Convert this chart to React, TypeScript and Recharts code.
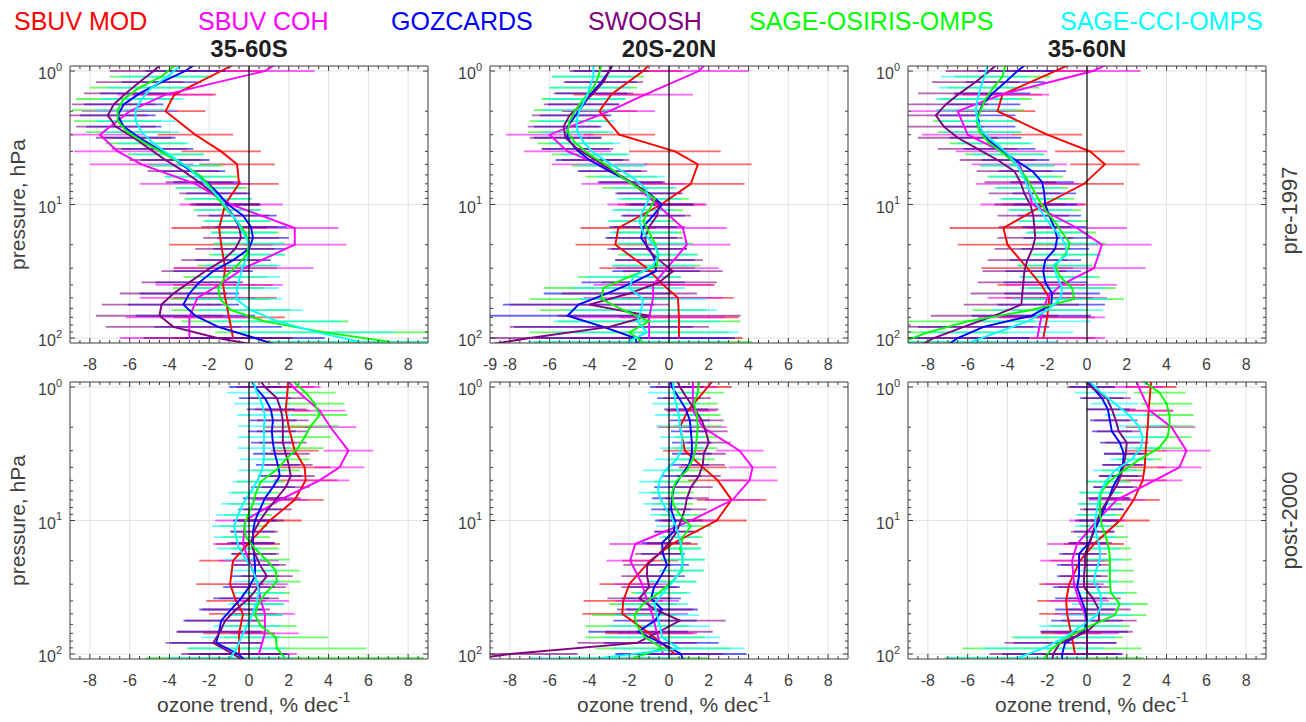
import React from 'react';
import { ScatterChart, Scatter, XAxis, YAxis, ErrorBar, ReferenceLine, ReferenceArea } from 'recharts';

// ---------- pressure levels (hPa) ----------
const P_SBUV = [0.7, 1, 1.5, 2, 3, 4, 5, 7, 10, 15, 20, 30, 40, 50, 70, 100];
const P_GRID = [0.83, 1, 1.21, 1.47, 1.78, 2.15, 2.61, 3.16, 3.83, 4.64, 5.62, 6.81, 8.25, 10, 12.1, 14.7, 17.8, 21.5, 26.1, 31.6, 38.3, 46.4, 56.2, 68.1, 82.5, 100, 121];
const P_SAGE = [0.9, 1.1, 1.33, 1.62, 1.96, 2.37, 2.87, 3.48, 4.21, 5.11, 6.19, 7.5, 9.08, 11, 13.3, 16.2, 19.6, 23.7, 28.7, 34.8, 42.2, 51.1, 61.9, 75, 90.8, 107];

// ---------- ticks ----------
const X_TICKS = [-9, -8.5, -8, -7.5, -7, -6.5, -6, -5.5, -5, -4.5, -4, -3.5, -3, -2.5, -2, -1.5, -1, -0.5, 0, 0.5, 1, 1.5, 2, 2.5, 3, 3.5, 4, 4.5, 5, 5.5, 6, 6.5, 7, 7.5, 8, 8.5, 9];
const X_GRID = [-8, -6, -4, -2, 2, 4, 6, 8];
const Y_TICKS = [1, 2, 3, 4, 5, 6, 7, 8, 9, 10, 20, 30, 40, 50, 60, 70, 80, 90, 100];
const Y_MAJOR = [1, 10, 100];
const Y_EXP = ['0', '1', '2'];

// ---------- series names / colours ----------
const SERIES_NAMES = ['SBUV MOD', 'SBUV COH', 'GOZCARDS', 'SWOOSH', 'SAGE-OSIRIS-OMPS', 'SAGE-CCI-OMPS'];
const SERIES_COLORS = ['#ff0000', '#ff00ff', '#0000ff', '#800080', '#00ff00', '#00ffff'];
const LEGEND_X = [14, 198, 391, 588, 749, 1060];
const TITLES = ['35-60S', '20S-20N', '35-60N'];
const ROW_LABELS = ['pre-1997', 'post-2000'];

// ---------- pre-1997, 35-60S ----------
const TL_MOD = [0.6, -1.4, -3.75, -4.2, -2.7, -1.4, -0.6, -0.5, -1.2, -1.5, -1.4, -1.2, -1.3, -1.2, -1.0, -0.8];
const TL_MOD_E = [2.2, 2.0, 2.1, 2.0, 1.9, 2.0, 1.9, 2.0, 1.8, 2.4, 2.6, 2.6, 2.5, 2.6, 2.8, 3.0];
const TL_COH = [2.5, 0.8, -4.2, -6.0, -7.5, -6.6, -5.4, -2.7, -0.9, 2.3, 2.3, -0.25, -1.5, -2.6, -3.0, -3.0];
const TL_COH_E = [2.6, 2.5, 2.4, 2.4, 2.2, 2.2, 2.6, 2.8, 2.6, 2.2, 2.6, 3.5, 3.2, 2.9, 3.2, 3.5];
const TL_GOZ = [-2.4, -3.2, -4.4, -5.5, -6.3, -6.6, -6.3, -5.5, -4.6, -3.7, -2.9, -2.1, -1.55, -1.05, -0.3, 0.1, 0.2, 0.0, -0.8, -1.8, -2.5, -3.0, -3.3, -2.7, -1.55, 0.3, 2.0];
const TL_GOZ_E = [2.0, 2.0, 2.0, 2.0, 2.0, 1.9, 1.9, 1.8, 1.8, 1.7, 1.7, 1.7, 1.6, 1.6, 1.7, 1.8, 1.8, 1.8, 1.9, 2.0, 2.2, 2.5, 2.8, 3.0, 3.2, 3.5, 3.8];
const TL_SWO = [-4.2, -4.8, -5.5, -6.2, -6.8, -7.1, -6.7, -5.8, -5.0, -4.2, -3.3, -2.5, -1.8, -1.2, -0.8, -0.5, -0.4, -0.7, -1.3, -2.2, -3.0, -3.8, -4.4, -4.5, -3.8, -1.6, 1.5];
const TL_SWO_E = [2.2, 2.2, 2.2, 2.1, 2.1, 2.0, 2.0, 1.9, 1.9, 1.8, 1.8, 1.7, 1.7, 1.7, 1.8, 1.9, 1.9, 2.0, 2.1, 2.2, 2.4, 2.7, 3.0, 3.2, 3.4, 3.7, 4.0];
const TL_SGO = [-3.7, -4.4, -5.5, -6.3, -6.6, -6.6, -6.1, -5.2, -4.2, -3.2, -2.4, -1.9, -1.55, -1.1, -0.6, -0.2, 0.0, -0.1, -0.6, -1.2, -1.55, -1.45, -0.9, 0.8, 3.8, 7.1];
const TL_SGO_E = [2.6, 2.6, 2.5, 2.4, 2.3, 2.2, 2.1, 2.0, 1.9, 1.9, 1.8, 1.8, 1.7, 1.7, 1.7, 1.7, 1.8, 1.9, 2.0, 2.1, 2.3, 2.5, 3.0, 4.2, 5.5, 6.5];
const TL_SGC = [-3.4, -4.1, -4.9, -5.4, -5.7, -5.7, -5.4, -4.8, -4.05, -3.2, -2.55, -2.0, -1.45, -1.05, -0.6, -0.3, 0.0, 0.0, -0.3, -0.45, -0.6, -0.65, 0.1, 1.45, 3.45, 5.6];
const TL_SGC_E = [2.3, 2.3, 2.2, 2.1, 2.0, 2.0, 1.9, 1.8, 1.8, 1.7, 1.7, 1.6, 1.6, 1.6, 1.6, 1.6, 1.7, 1.8, 1.9, 2.0, 2.1, 2.3, 2.6, 3.2, 3.8, 4.5];

// ---------- pre-1997, 20S-20N ----------
const TM_MOD = [-0.3, -1.3, -2.9, -3.5, -2.5, 0.3, 1.45, 1.1, -0.4, -2.55, -2.7, -1.1, -0.3, 0.45, 0.5, 0.5];
const TM_MOD_E = [2.2, 2.0, 1.9, 1.9, 1.8, 2.3, 2.7, 2.7, 2.2, 1.9, 2.0, 2.4, 2.6, 2.8, 3.0, 3.2];
const TM_COH = [2.5, 1.5, -1.2, -3.0, -6.0, -5.1, -3.5, -1.8, -0.6, 0.7, 0.9, -0.1, -0.8, -0.8, -1.0, -1.0];
const TM_COH_E = [2.6, 2.5, 2.4, 2.3, 2.2, 2.2, 2.4, 2.6, 2.5, 2.2, 2.2, 2.6, 3.0, 3.5, 3.8, 4.0];
const TM_GOZ = [-2.7, -3.0, -3.4, -3.9, -4.3, -4.7, -5.1, -5.1, -4.7, -4.0, -3.0, -1.9, -1.0, -0.35, -0.8, -1.3, -1.4, -1.0, -0.7, -0.65, -1.8, -3.1, -4.55, -5.1, -3.3, -1.7, -1.5];
const TM_GOZ_E = [1.8, 1.8, 1.8, 1.8, 1.8, 1.8, 1.7, 1.7, 1.7, 1.7, 1.6, 1.6, 1.6, 1.6, 1.6, 1.7, 1.8, 1.9, 2.0, 2.2, 2.6, 3.2, 3.8, 4.2, 4.5, 5.0, 5.5];
const TM_SWO = [-2.8, -3.0, -3.3, -3.8, -4.4, -5.0, -5.3, -5.2, -4.6, -3.7, -2.8, -1.9, -1.0, -0.5, -0.6, -1.0, -1.2, -1.1, -0.5, 0.2, -0.5, -2.0, -4.0, -1.0, -3.0, -7.0, -10.5];
const TM_SWO_E = [2.0, 2.0, 2.0, 2.0, 1.9, 1.9, 1.8, 1.8, 1.8, 1.7, 1.7, 1.7, 1.7, 1.7, 1.7, 1.8, 1.9, 2.0, 2.2, 2.5, 2.9, 3.4, 4.0, 4.6, 5.0, 5.5, 6.0];
const TM_SGO = [-3.4, -3.55, -3.8, -4.3, -4.7, -5.0, -5.1, -4.7, -4.0, -3.1, -2.4, -1.55, -0.7, -1.0, -1.3, -1.0, -0.7, -0.55, -0.6, -2.0, -3.3, -3.4, -2.3, -1.0, -2.0, -1.3];
const TM_SGO_E = [2.3, 2.3, 2.2, 2.1, 2.1, 2.0, 2.0, 1.9, 1.9, 1.8, 1.8, 1.8, 1.7, 1.7, 1.7, 1.8, 1.9, 2.0, 2.2, 2.6, 3.0, 3.6, 4.2, 4.6, 5.0, 5.5];
const TM_SGC = [-3.8, -3.8, -4.0, -4.2, -4.5, -4.65, -4.6, -4.25, -3.7, -2.8, -1.9, -1.2, -1.0, -1.3, -1.5, -1.3, -0.8, -0.5, -0.8, -1.8, -2.0, -1.3, -1.4, -1.6, -1.1, -2.1];
const TM_SGC_E = [2.1, 2.1, 2.0, 2.0, 1.9, 1.9, 1.8, 1.8, 1.7, 1.7, 1.7, 1.6, 1.6, 1.6, 1.6, 1.7, 1.8, 1.9, 2.1, 2.4, 2.8, 3.2, 3.8, 4.2, 4.6, 5.0];

// ---------- pre-1997, 35-60N ----------
const TR_MOD = [0.7, -1.6, -4.25, -4.5, -2.0, 0.15, 0.9, -0.15, -2.15, -4.2, -4.0, -3.0, -2.3, -1.9, -2.0, -2.2];
const TR_MOD_E = [2.2, 2.0, 2.0, 1.9, 1.75, 1.75, 1.75, 2.0, 2.1, 2.7, 2.5, 2.3, 2.2, 2.2, 2.4, 2.6];
const TR_COH = [2.5, 0.3, -4.3, -6.5, -6.0, -4.3, -3.4, -3.0, -2.75, -0.5, 0.75, 0.35, -1.3, -2.0, -2.3, -2.5];
const TR_COH_E = [2.6, 2.4, 2.4, 2.4, 2.3, 2.3, 2.4, 2.6, 2.6, 2.5, 2.5, 2.6, 2.8, 3.0, 3.2, 3.4];
const TR_GOZ = [-2.8, -3.5, -4.1, -4.75, -5.25, -5.5, -5.4, -5.1, -4.4, -3.6, -2.75, -2.25, -2.15, -2.1, -1.9, -1.65, -1.5, -1.6, -2.1, -2.2, -2.1, -1.75, -1.8, -2.8, -5.2, -6.5, -7.3];
const TR_GOZ_E = [2.0, 2.0, 2.0, 1.9, 1.9, 1.9, 1.8, 1.8, 1.8, 1.7, 1.7, 1.6, 1.6, 1.6, 1.6, 1.6, 1.7, 1.7, 1.8, 1.9, 2.1, 2.4, 2.7, 3.0, 3.3, 3.6, 4.0];
const TR_SWO = [-4.3, -4.9, -5.6, -6.4, -7.1, -7.6, -7.2, -6.5, -5.5, -4.5, -3.65, -3.35, -3.15, -2.85, -2.7, -2.65, -2.6, -2.75, -3.0, -3.15, -3.2, -3.25, -3.3, -4.65, -6.2, -7.7, -8.7];
const TR_SWO_E = [2.2, 2.2, 2.2, 2.1, 2.1, 2.1, 2.0, 2.0, 2.0, 1.9, 1.9, 1.8, 1.8, 1.8, 1.8, 1.8, 1.9, 1.9, 2.0, 2.1, 2.3, 2.6, 2.9, 3.2, 3.5, 3.8, 4.2];
const TR_SGO = [-4.1, -4.25, -4.7, -5.1, -5.35, -5.55, -5.4, -4.9, -4.15, -3.5, -3.1, -2.75, -2.45, -2.1, -1.65, -1.25, -0.85, -1.1, -1.6, -1.35, -0.75, -0.65, -2.85, -6.0, -8.0, -9.3];
const TR_SGO_E = [2.4, 2.4, 2.3, 2.3, 2.2, 2.2, 2.1, 2.0, 2.0, 1.9, 1.9, 1.8, 1.8, 1.8, 1.7, 1.7, 1.8, 1.8, 1.9, 2.0, 2.2, 2.5, 2.9, 3.4, 4.0, 4.8];
const TR_SGC = [-5.0, -5.15, -5.35, -5.5, -5.6, -5.5, -5.25, -4.6, -3.95, -3.5, -3.2, -2.95, -2.7, -2.35, -2.0, -1.5, -1.1, -1.0, -1.7, -1.5, -1.25, -1.35, -2.0, -3.0, -4.5, -5.85];
const TR_SGC_E = [2.2, 2.2, 2.1, 2.1, 2.0, 2.0, 1.9, 1.9, 1.8, 1.8, 1.7, 1.7, 1.7, 1.6, 1.6, 1.6, 1.7, 1.7, 1.8, 1.9, 2.1, 2.4, 2.8, 3.2, 3.8, 4.4];

// ---------- post-2000, 35-60S ----------
const BL_MOD = [2.0, 1.95, 1.85, 2.0, 2.3, 2.8, 2.85, 2.3, 1.05, -0.05, -0.8, -0.95, -0.65, -0.3, -0.5, -0.5];
const BL_MOD_E = [1.3, 1.3, 1.2, 1.2, 1.2, 1.3, 1.6, 1.45, 1.6, 1.6, 1.7, 1.7, 1.5, 1.7, 1.8, 2.0];
const BL_COH = [1.5, 2.2, 3.55, 4.1, 5.0, 4.55, 3.55, 1.55, -0.2, -0.3, 0.0, 0.45, 0.6, 0.8, 0.8, 0.5];
const BL_COH_E = [1.4, 1.4, 1.3, 1.3, 1.25, 1.25, 1.5, 1.4, 1.5, 1.5, 1.5, 1.5, 1.4, 1.5, 1.7, 1.9];
const BL_GOZ = [0.0, 0.3, 0.8, 1.1, 1.2, 1.15, 1.2, 1.3, 1.45, 1.55, 1.2, 0.8, 0.55, 0.3, 0.2, 0.2, 0.25, 0.3, 0.3, 0.0, -0.4, -0.9, -1.4, -1.5, -1.65, -0.55, 0.1];
const BL_GOZ_E = [1.3, 1.3, 1.3, 1.2, 1.2, 1.2, 1.1, 1.1, 1.1, 1.1, 1.1, 1.1, 1.1, 1.1, 1.1, 1.1, 1.1, 1.2, 1.2, 1.3, 1.4, 1.6, 1.9, 2.1, 2.3, 2.5, 2.7];
const BL_SWO = [0.4, 0.8, 1.4, 1.6, 1.7, 1.7, 1.7, 1.85, 2.0, 2.1, 1.85, 1.4, 0.95, 0.55, 0.25, 0.1, 0.3, 0.55, 0.9, 0.45, 0.0, -0.65, -1.2, -1.45, -1.8, -0.8, 0.1];
const BL_SWO_E = [1.4, 1.4, 1.4, 1.3, 1.3, 1.3, 1.2, 1.2, 1.2, 1.2, 1.2, 1.2, 1.2, 1.2, 1.2, 1.2, 1.2, 1.3, 1.3, 1.4, 1.5, 1.7, 2.0, 2.2, 2.4, 2.6, 2.8];
const BL_SGO = [2.2, 2.85, 3.3, 3.55, 3.1, 2.8, 2.45, 1.85, 1.35, 0.6, 0.35, 0.2, -0.05, -0.25, -0.15, 0.3, 0.85, 1.35, 1.4, 0.85, 0.45, 0.3, 0.6, 1.35, 1.4, 1.8];
const BL_SGO_E = [1.6, 1.5, 1.5, 1.4, 1.4, 1.3, 1.3, 1.2, 1.2, 1.2, 1.2, 1.2, 1.2, 1.2, 1.2, 1.2, 1.2, 1.2, 1.2, 1.2, 1.3, 1.4, 1.8, 2.6, 4.5, 7.0];
const BL_SGC = [0.2, 0.4, 0.65, 0.8, 0.75, 0.75, 0.75, 0.75, 0.65, 0.4, 0.05, -0.3, -0.55, -0.75, -0.65, -0.5, -0.15, 0.2, 0.4, 0.5, 0.35, 0.15, -0.1, -0.4, -0.6, -0.95];
const BL_SGC_E = [1.5, 1.5, 1.4, 1.4, 1.3, 1.3, 1.3, 1.2, 1.2, 1.2, 1.1, 1.1, 1.1, 1.1, 1.1, 1.1, 1.1, 1.2, 1.2, 1.3, 1.4, 1.5, 1.7, 2.0, 2.4, 3.2];

// ---------- post-2000, 20S-20N ----------
const BM_MOD = [2.8, 1.95, 0.95, 0.55, 0.8, 1.7, 2.45, 3.15, 2.4, 0.15, -0.95, -2.0, -2.3, -2.35, -1.0, 0.3];
const BM_MOD_E = [1.3, 1.2, 1.1, 1.1, 1.1, 1.2, 1.5, 1.75, 1.5, 1.3, 1.4, 1.5, 2.0, 2.0, 2.2, 2.4];
const BM_COH = [1.2, 1.2, 1.2, 1.7, 3.55, 4.2, 4.05, 3.2, 1.1, -1.7, -1.95, -1.35, -1.1, -0.85, -0.6, -0.3];
const BM_COH_E = [1.3, 1.2, 1.2, 1.2, 1.2, 1.2, 1.4, 1.4, 1.4, 1.3, 1.2, 1.4, 1.6, 1.8, 2.0, 2.2];
const BM_GOZ = [0.0, 0.15, 0.5, 0.85, 1.05, 1.1, 1.15, 1.15, 1.0, 0.6, 0.25, 0.15, 0.1, 0.3, 0.25, -0.35, -0.3, -0.1, -0.4, -0.75, -0.9, -0.35, -0.7, -1.55, -0.4, 0.6, 0.8];
const BM_GOZ_E = [1.1, 1.1, 1.1, 1.1, 1.0, 1.0, 1.0, 1.0, 1.0, 1.0, 1.0, 1.0, 1.0, 1.0, 1.0, 1.0, 1.1, 1.1, 1.2, 1.3, 1.5, 1.8, 2.1, 2.5, 2.9, 3.3, 3.6];
const BM_SWO = [0.3, 0.55, 0.9, 1.3, 1.65, 1.85, 2.0, 1.75, 1.7, 1.5, 1.1, 0.9, 0.8, 0.6, 0.4, 0.0, -0.5, -1.1, -1.1, -1.0, -1.5, -0.7, 0.55, -0.5, -1.6, -8.0, -12];
const BM_SWO_E = [1.2, 1.2, 1.2, 1.2, 1.1, 1.1, 1.1, 1.1, 1.1, 1.1, 1.1, 1.1, 1.1, 1.1, 1.1, 1.1, 1.2, 1.2, 1.3, 1.4, 1.6, 1.9, 2.3, 2.7, 3.0, 3.4, 3.8];
const BM_SGO = [1.5, 1.45, 1.25, 1.4, 1.45, 1.4, 1.35, 1.2, 0.9, 0.35, 0.15, 0.2, 0.55, 1.1, 0.7, 0.55, 0.7, 0.65, 0.15, -0.5, -1.3, -1.75, -1.6, -1.2, -0.3, -1.8];
const BM_SGO_E = [1.3, 1.3, 1.2, 1.2, 1.2, 1.1, 1.1, 1.1, 1.1, 1.1, 1.1, 1.0, 1.0, 1.0, 1.0, 1.0, 1.1, 1.1, 1.2, 1.4, 1.7, 2.1, 2.6, 3.0, 3.4, 3.8];
const BM_SGC = [0.2, 0.25, 0.35, 0.5, 0.55, 0.65, 0.65, 0.4, -0.2, -0.5, -0.55, -0.3, 0.05, 0.35, 0.5, 0.65, 0.7, 0.6, 0.2, -0.3, -0.75, -0.6, -0.45, -0.35, 0.5, -3.4];
const BM_SGC_E = [1.3, 1.3, 1.2, 1.2, 1.2, 1.1, 1.1, 1.1, 1.1, 1.0, 1.0, 1.0, 1.0, 1.0, 1.0, 1.0, 1.1, 1.1, 1.2, 1.4, 1.7, 2.1, 2.5, 2.9, 3.3, 3.6];

// ---------- post-2000, 35-60N ----------
const BR_MOD = [3.3, 3.2, 3.1, 3.05, 2.95, 2.9, 2.8, 2.35, 1.65, 0.35, -0.35, -0.9, -1.05, -1.0, -0.8, -0.6];
const BR_MOD_E = [1.3, 1.3, 1.2, 1.1, 1.0, 1.05, 1.2, 1.3, 1.5, 1.5, 1.5, 1.5, 1.45, 1.4, 1.5, 1.7];
const BR_COH = [2.2, 2.6, 3.15, 4.25, 5.0, 4.65, 3.4, 1.5, 0.5, -0.5, -0.75, -0.65, -0.4, -0.1, 0.0, 0.0];
const BR_COH_E = [1.3, 1.3, 1.2, 1.2, 1.2, 1.1, 1.4, 1.4, 1.4, 1.5, 1.6, 1.5, 1.5, 1.5, 1.6, 1.8];
const BR_GOZ = [-0.1, 0.25, 0.75, 1.05, 1.15, 1.25, 1.65, 1.85, 1.8, 1.6, 1.3, 1.1, 0.85, 0.6, 0.35, 0.1, -0.4, -0.4, -0.4, -0.5, -0.3, -0.1, 0.0, -0.15, -1.1, -1.25, -1.25];
const BR_GOZ_E = [1.1, 1.1, 1.1, 1.1, 1.0, 1.0, 1.0, 1.0, 1.0, 1.0, 1.0, 1.0, 1.0, 1.0, 1.0, 1.0, 1.0, 1.1, 1.1, 1.2, 1.3, 1.5, 1.8, 2.2, 2.6, 3.0, 3.2];
const BR_SWO = [-0.3, 0.2, 1.0, 1.25, 1.45, 1.6, 2.0, 1.95, 1.85, 1.7, 1.45, 1.1, 0.75, 0.5, 0.3, 0.15, -0.1, -0.1, -0.15, -0.15, 0.3, 0.6, 0.6, 0.0, -1.35, -1.7, -1.8];
const BR_SWO_E = [1.2, 1.2, 1.2, 1.2, 1.1, 1.1, 1.1, 1.1, 1.1, 1.1, 1.1, 1.1, 1.1, 1.1, 1.1, 1.1, 1.1, 1.2, 1.2, 1.3, 1.4, 1.6, 1.9, 2.3, 2.8, 3.2, 3.5];
const BR_SGO = [2.8, 3.65, 4.0, 4.15, 4.15, 4.05, 3.6, 2.65, 1.85, 1.1, 0.7, 0.65, 0.65, 0.75, 0.95, 1.1, 1.15, 1.15, 1.15, 1.2, 1.65, 1.4, 0.15, -1.0, -1.75, -2.15];
const BR_SGO_E = [1.3, 1.3, 1.3, 1.2, 1.2, 1.2, 1.2, 1.1, 1.1, 1.1, 1.1, 1.1, 1.1, 1.1, 1.1, 1.1, 1.1, 1.2, 1.2, 1.3, 1.4, 1.6, 2.0, 2.8, 4.5, 5.0];
const BR_SGC = [0.1, 0.7, 1.4, 2.1, 2.6, 2.8, 2.7, 2.25, 1.4, 0.95, 0.65, 0.55, 0.45, 0.4, 0.5, 0.65, 0.65, 0.45, 0.35, 0.65, 0.75, 0.5, -0.3, -1.1, -2.2, -3.5];
const BR_SGC_E = [1.3, 1.3, 1.2, 1.2, 1.2, 1.1, 1.1, 1.1, 1.1, 1.0, 1.0, 1.0, 1.0, 1.0, 1.0, 1.0, 1.1, 1.1, 1.2, 1.3, 1.5, 1.8, 2.1, 2.5, 3.0, 3.6];

// ---------- layout ----------
const PLOT_W = 358;
const PLOT_H = 277;
const ML = 60;
const MT = 10;
const MR = 12;
const MB = 45;
const P_MIN = 0.917;
const P_MAX = 109;
const COL_LEFT = [70, 490, 908];
const ROW_TOP = [66, 382];
const AXIS_COLOR = '#3d3d3d';
const TEXT_COLOR = '#404040';
const FONT = '"Liberation Sans", Arial, Helvetica, sans-serif';

type Triple = [number[], number[], number[]];

const PANEL_SERIES: Triple[][] = [
  [[P_SBUV, TL_MOD, TL_MOD_E], [P_SBUV, TL_COH, TL_COH_E], [P_GRID, TL_GOZ, TL_GOZ_E], [P_GRID, TL_SWO, TL_SWO_E], [P_SAGE, TL_SGO, TL_SGO_E], [P_SAGE, TL_SGC, TL_SGC_E]],
  [[P_SBUV, TM_MOD, TM_MOD_E], [P_SBUV, TM_COH, TM_COH_E], [P_GRID, TM_GOZ, TM_GOZ_E], [P_GRID, TM_SWO, TM_SWO_E], [P_SAGE, TM_SGO, TM_SGO_E], [P_SAGE, TM_SGC, TM_SGC_E]],
  [[P_SBUV, TR_MOD, TR_MOD_E], [P_SBUV, TR_COH, TR_COH_E], [P_GRID, TR_GOZ, TR_GOZ_E], [P_GRID, TR_SWO, TR_SWO_E], [P_SAGE, TR_SGO, TR_SGO_E], [P_SAGE, TR_SGC, TR_SGC_E]],
  [[P_SBUV, BL_MOD, BL_MOD_E], [P_SBUV, BL_COH, BL_COH_E], [P_GRID, BL_GOZ, BL_GOZ_E], [P_GRID, BL_SWO, BL_SWO_E], [P_SAGE, BL_SGO, BL_SGO_E], [P_SAGE, BL_SGC, BL_SGC_E]],
  [[P_SBUV, BM_MOD, BM_MOD_E], [P_SBUV, BM_COH, BM_COH_E], [P_GRID, BM_GOZ, BM_GOZ_E], [P_GRID, BM_SWO, BM_SWO_E], [P_SAGE, BM_SGO, BM_SGO_E], [P_SAGE, BM_SGC, BM_SGC_E]],
  [[P_SBUV, BR_MOD, BR_MOD_E], [P_SBUV, BR_COH, BR_COH_E], [P_GRID, BR_GOZ, BR_GOZ_E], [P_GRID, BR_SWO, BR_SWO_E], [P_SAGE, BR_SGO, BR_SGO_E], [P_SAGE, BR_SGC, BR_SGC_E]],
];

function buildData(t: Triple) {
  const [p, v, e] = t;
  const out: { p: number; x: number; e: number }[] = [];
  for (let i = 0; i < p.length; i++) {
    if (v[i] === undefined) continue;
    out.push({ p: p[i], x: v[i], e: e[i] ?? 0 });
  }
  return out;
}

const Empty = () => <g />;

const makeXTick = (showMinus9: boolean) => (props: any) => {
  const { x, payload } = props;
  const v = Number(payload.value);
  const isMajor = Math.abs(v % 2) < 1e-6;
  const bottom = MT + PLOT_H;
  const top = MT;
  const len = isMajor ? 5 : 3;
  const edge = Math.abs(Math.abs(v) - 9) < 1e-6;
  let label: string | null = null;
  if (isMajor && Math.abs(v) <= 8) label = String(v);
  if (showMinus9 && v === -9) label = '-9';
  return (
    <g>
      {!edge && <line x1={x} x2={x} y1={bottom} y2={bottom - len} stroke={AXIS_COLOR} strokeWidth={1} />}
      {!edge && <line x1={x} x2={x} y1={top} y2={top + len} stroke={AXIS_COLOR} strokeWidth={1} />}
      {label !== null && (
        <text x={x} y={bottom + 27} textAnchor="middle" fontSize={16} fill={TEXT_COLOR} fontFamily={FONT}>
          {label}
        </text>
      )}
    </g>
  );
};

const YTick = (props: any) => {
  const { y, payload } = props;
  const v = Number(payload.value);
  const mi = Y_MAJOR.indexOf(v);
  const major = mi >= 0;
  const len = major ? 5 : 3;
  const L = ML;
  const R = ML + PLOT_W;
  return (
    <g>
      <line x1={L} x2={L + len} y1={y} y2={y} stroke={AXIS_COLOR} strokeWidth={1} />
      <line x1={R} x2={R - len} y1={y} y2={y} stroke={AXIS_COLOR} strokeWidth={1} />
      {major && (
        <text x={L - 8} y={y + 8} textAnchor="end" fontSize={16} fill={TEXT_COLOR} fontFamily={FONT}>
          10
          <tspan dy={-8.5} fontSize={11}>
            {Y_EXP[mi]}
          </tspan>
        </text>
      )}
    </g>
  );
};

// data layer: exactly the plot area, clipped by its container
function DataLayer({ idx }: { idx: number }) {
  const series = PANEL_SERIES[idx].map((t, i) => ({ data: buildData(t), color: SERIES_COLORS[i], name: SERIES_NAMES[i] }));
  return (
    <ScatterChart width={PLOT_W} height={PLOT_H} margin={{ top: 0, right: 0, bottom: 0, left: 0 }}>
      <XAxis type="number" dataKey="x" domain={[-9, 9]} allowDataOverflow hide />
      <YAxis type="number" dataKey="p" scale="log" domain={[P_MIN, P_MAX]} allowDataOverflow reversed hide />
      {X_GRID.map((g) => (
        <ReferenceLine key={'gx' + g} x={g} stroke="#e3e3e3" strokeWidth={1} zIndex={-100} />
      ))}
      {Y_MAJOR.map((g) => (
        <ReferenceLine key={'gy' + g} y={g} stroke="#e3e3e3" strokeWidth={1} zIndex={-100} />
      ))}
      {series.map((s, i) => (
        <Scatter key={'b' + i} name={s.name + ' err'} data={s.data} fill={s.color} shape={Empty} isAnimationActive={false}>
          <ErrorBar dataKey="e" direction="x" width={0} stroke={s.color} strokeWidth={1.8} strokeOpacity={0.6} isAnimationActive={false} />
        </Scatter>
      ))}
      {series.map((s, i) => (
        <Scatter
          key={'l' + i}
          name={s.name}
          data={s.data}
          fill={s.color}
          line={{ stroke: s.color, strokeWidth: 1.9 }}
          lineType="joint"
          shape={Empty}
          isAnimationActive={false}
        />
      ))}
      <ReferenceLine x={0} stroke="#000000" strokeWidth={1.2} zIndex={700} />
    </ScatterChart>
  );
}

// axes layer: ticks, tick labels and box
function AxesLayer({ idx }: { idx: number }) {
  const XTick = makeXTick(idx === 1);
  return (
    <ScatterChart width={PLOT_W + ML + MR} height={PLOT_H + MT + MB} margin={{ top: MT, right: MR, bottom: 0, left: 0 }}>
      <XAxis
        type="number"
        dataKey="x"
        domain={[-9, 9]}
        allowDataOverflow
        ticks={X_TICKS}
        interval={0}
        tick={XTick}
        tickLine={false}
        axisLine={false}
        height={MB}
      />
      <YAxis
        type="number"
        dataKey="p"
        scale="log"
        domain={[P_MIN, P_MAX]}
        allowDataOverflow
        reversed
        ticks={Y_TICKS}
        interval={0}
        tick={YTick}
        tickLine={false}
        axisLine={false}
        width={ML}
      />
      <ReferenceArea x1={-9} x2={9} y1={P_MIN} y2={P_MAX} fill="none" fillOpacity={0} stroke={AXIS_COLOR} strokeWidth={1} />
    </ScatterChart>
  );
}

function Panel({ idx }: { idx: number }) {
  const row = Math.floor(idx / 3);
  const col = idx % 3;
  const left = COL_LEFT[col];
  const top = ROW_TOP[row];
  return (
    <>
      <div style={{ position: 'absolute', left, top, width: PLOT_W, height: PLOT_H, overflow: 'hidden' }}>
        <DataLayer idx={idx} />
      </div>
      <div style={{ position: 'absolute', left: left - ML, top: top - MT, pointerEvents: 'none' }}>
        <AxesLayer idx={idx} />
      </div>
    </>
  );
}

export default function App() {
  return (
    <div style={{ position: 'absolute', left: 0, top: 0, width: 1306, height: 722, background: '#ffffff', overflow: 'hidden', fontFamily: FONT }}>
      {[0, 1, 2, 3, 4, 5].map((i) => (
        <Panel key={i} idx={i} />
      ))}
      <svg width={1306} height={722} style={{ position: 'absolute', left: 0, top: 0, pointerEvents: 'none' }}>
        {SERIES_NAMES.map((n, i) => (
          <text key={n} x={LEGEND_X[i]} y={30} fontSize={25} fill={SERIES_COLORS[i]} fontFamily={FONT}>
            {n}
          </text>
        ))}
        {TITLES.map((t, i) => (
          <text key={t} x={COL_LEFT[i] + PLOT_W / 2} y={57} fontSize={24} fontWeight="bold" fill="#1f1f1f" textAnchor="middle" fontFamily={FONT}>
            {t}
          </text>
        ))}
        {ROW_TOP.map((t, r) => (
          <text key={'pl' + r} transform={`translate(25, ${t + PLOT_H / 2}) rotate(-90)`} fontSize={21} fill={TEXT_COLOR} textAnchor="middle" fontFamily={FONT}>
            pressure, hPa
          </text>
        ))}
        {ROW_TOP.map((t, r) => (
          <text key={'rl' + r} transform={`translate(1297, ${t + PLOT_H / 2 + (r === 0 ? 6 : 0)}) rotate(-90)`} fontSize={22} fill={TEXT_COLOR} textAnchor="middle" fontFamily={FONT}>
            {ROW_LABELS[r]}
          </text>
        ))}
        {COL_LEFT.map((l, c) => (
          <text key={'xl' + c} x={l + PLOT_W / 2 - 92} y={712} fontSize={21} fill={TEXT_COLOR} fontFamily={FONT}>
            ozone trend, % dec
            <tspan dy={-10} fontSize={14}>
              -1
            </tspan>
          </text>
        ))}
      </svg>
    </div>
  );
}
